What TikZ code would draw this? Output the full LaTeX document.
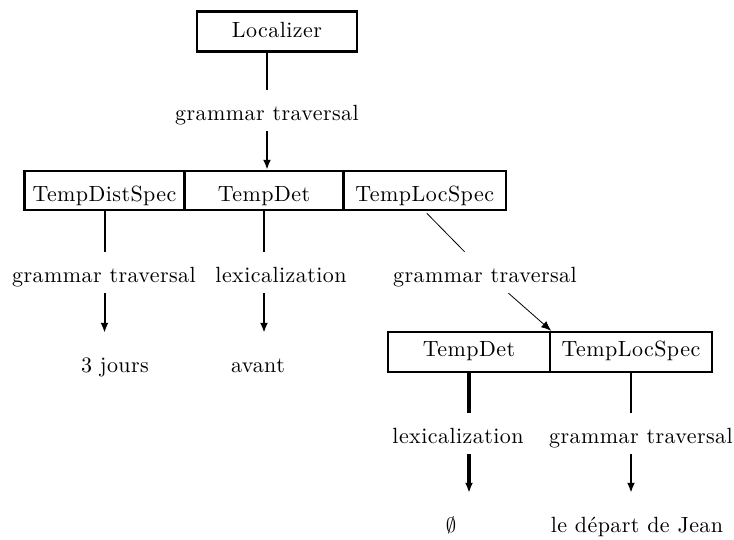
\documentclass[tikz,border=0pt]{standalone}
\usepackage{fontspec}
\newfontfamily\cmten{lmroman10-regular}[Extension=.otf,LetterSpace=2]
\usetikzlibrary{arrows.meta}
\begin{document}
\begin{tikzpicture}[x=1pt,y=-1pt,
  every node/.style={font=\cmten\fontsize{22}{26}\selectfont},
  box/.style={draw,line width=2.4pt,inner sep=0pt,text depth=4.5pt,minimum height=40pt},
  lab/.style={inner sep=0pt,text height=30pt,text depth=11pt,anchor=base},
  leaf/.style={inner sep=0pt,text height=39pt,text depth=4pt,anchor=base},
  conn/.style={line width=2pt},
  thickconn/.style={line width=3.2pt},
  arr/.style={line width=2pt,-{Latex[length=10pt,width=8pt]}},
  thickarr/.style={line width=3.2pt,-{Latex[length=10pt,width=8pt]}},
  diag/.style={line width=0.8pt},
  diagarr/.style={line width=0.8pt,-{Latex[length=10pt,width=8pt]}},
]
\useasboundingbox (0,0) rectangle (734,539);

% boxes
\node[box,text height=15.5pt,minimum width=160pt] (loc) at (277,31.5) {Localizer};
\node[box,text height=27pt,minimum width=160pt,minimum height=39pt] (b1) at (104.5,190.5) {TempDistSpec};
\node[box,text height=27pt,minimum width=159pt,minimum height=39pt] (b2) at (264,190.5) {TempDet};
\node[box,text height=27pt,minimum width=162.5pt,minimum height=39pt] (b3) at (424.75,190.5) {TempLocSpec};
\node[box,text height=13pt,minimum width=162pt] (bA) at (469,352) {TempDet};
\node[box,text height=13pt,minimum width=162pt] (bB) at (631,352) {TempLocSpec};

% labels
\node[lab] (g0) at (267,120) {grammar traversal};
\node[lab] (l1) at (104,282) {grammar traversal};
\node[lab] (l2) at (281,282) {lexicalization};
\node[lab] (l3) at (485,282) {grammar traversal};
\node[lab] (l4) at (458,443) {lexicalization};
\node[lab] (l5) at (641,443) {grammar traversal};

% leaves
\node[leaf] (f1) at (115,372) {3 jours};
\node[leaf] (f2) at (258,372) {avant};
\node[leaf] (f3) at (451,532) {$\emptyset$};
\node[leaf] (f4) at (637,532) {le d\'epart de Jean};

% connectors
\draw[conn] (loc.south -| g0.north) -- (g0.north);
\draw[arr] (g0.south) -- (g0.south |- b2.north);

\draw[conn] (b1.south) -- (b1.south |- l1.north);
\draw[arr] (b1.south |- l1.south) -- (b1.south |- f1.north);

\draw[conn] (b2.south) -- (b2.south |- l2.north);
\draw[arr] (b2.south |- l2.south) -- (b2.south |- f2.north);

\draw[diag,shorten <=3pt] (b3.south) -- (l3);
\draw[diagarr] (l3) -- (bA.north east);

\draw[thickconn] (bA.south) -- (bA.south |- l4.north);
\draw[thickarr] (bA.south |- l4.south) -- (bA.south |- f3.north);

\draw[conn] (bB.south) -- (bB.south |- l5.north);
\draw[arr] (bB.south |- l5.south) -- (bB.south |- f4.north);
\end{tikzpicture}
\end{document}
